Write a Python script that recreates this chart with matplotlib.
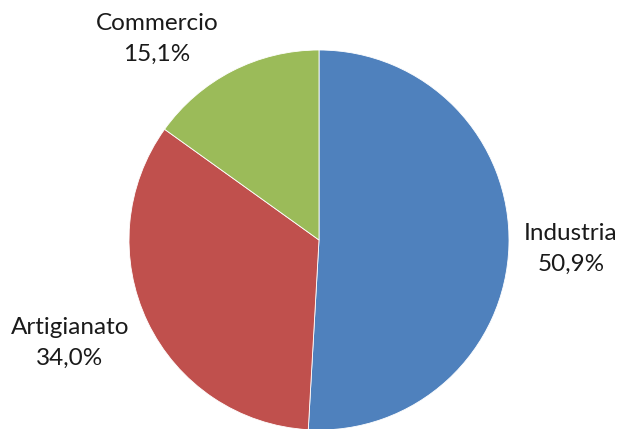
import matplotlib
matplotlib.use("Agg")
import matplotlib.pyplot as plt

categories = ["Industria", "Artigianato", "Commercio"]
shares = [50.9, 34.0, 15.1]
colors = ["#4F81BD", "#C0504D", "#9BBB59"]

W, H = 621, 429
fig = plt.figure(figsize=(W / 100, H / 100), dpi=100)
ax = fig.add_axes([0, 0, 1, 1])

ax.pie(shares, colors=colors, startangle=90, counterclock=False,
       center=(319, H - 240), radius=190, frame=True,
       wedgeprops=dict(linewidth=0.6, edgecolor="white"))
ax.set_xlim(0, W)
ax.set_ylim(0, H)
ax.set_aspect("equal")
ax.axis("off")

label_pos = {"Industria": (571, H - 249),
             "Artigianato": (70, H - 343),
             "Commercio": (157, H - 39)}
for name, val in zip(categories, shares):
    x, y = label_pos[name]
    txt = f"{name}\n{val:.1f}%".replace(".", ",")
    ax.text(x, y, txt, ha="center", va="center", fontsize=17.5,
            family="Lato", color="#1a1a1a", linespacing=1.6)

fig.savefig("out.png", dpi=100)
